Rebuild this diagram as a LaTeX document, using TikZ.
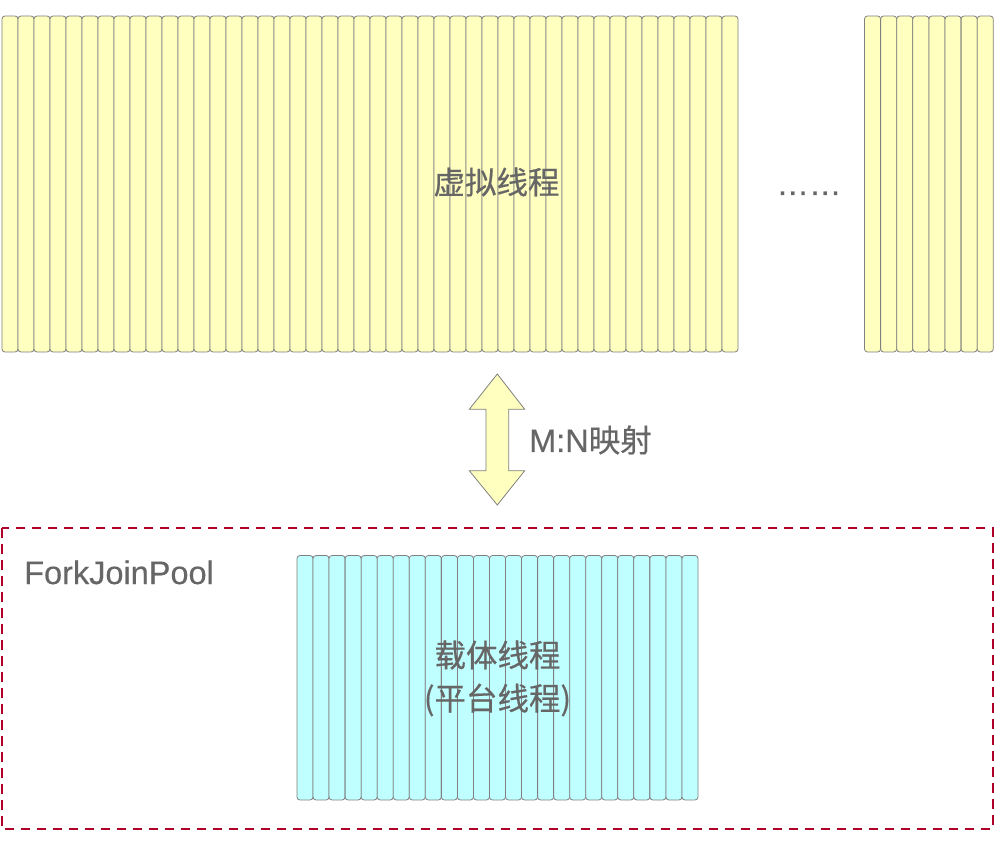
\documentclass[tikz,border=0pt]{standalone}
\usepackage{fontspec}
\setmainfont{Liberation Sans}[FakeBold=0.4]
\newfontfamily\cjk{Noto Sans CJK SC}[FakeBold=0.5]
\definecolor{vyellow}{HTML}{FFFFC0}
\definecolor{ccyan}{HTML}{C0FFFF}
\definecolor{barline}{HTML}{808080}
\definecolor{txtgray}{HTML}{666666}
\definecolor{dashred}{HTML}{B0002A}
\tikzset{
  vbar/.style={draw=barline, fill=vyellow, line width=0.8pt, rounded corners=3pt},
  cbar/.style={draw=barline, fill=ccyan, line width=0.8pt, rounded corners=3pt},
  lbl/.style={text=txtgray, inner sep=0pt, font=\fontsize{32.5}{38}\selectfont},
  cjklbl/.style={text=txtgray, inner sep=0pt, font=\cjk\fontsize{31.5}{36}\selectfont},
}
\begin{document}
\begin{tikzpicture}[x=1pt,y=-1pt]
\useasboundingbox (0,0) rectangle (994,845);
% virtual threads
\foreach \i in {0,...,45} {
  \draw[vbar] ({2+16*\i},16) rectangle ({18+16*\i},352);
}
\foreach \i in {0,...,7} {
  \draw[vbar] ({864.5+16.1*\i},16) rectangle ({880.6+16.1*\i},352);
}
\node[cjklbl] (vt) at (496.5,182) {虚拟线程};
\node[lbl, anchor=base] (dots) at (809,195) {……};
% mapping arrow
\coordinate (atop) at (497.3,374);
\coordinate (abot) at (497.3,505);
\draw[draw=barline, fill=vyellow, line width=0.8pt]
  (atop) -- (524.7,409.3) -- (508.7,409.3) -- (508.7,470.7) -- (524.7,470.7)
  -- (abot) -- (469.3,470.7) -- (486,470.7) -- (486,409.3) -- (469.3,409.3) -- cycle;
\node[lbl, anchor=west] (mn) at (529,440) {M:N{\cjk\fontsize{31.5}{36}\selectfont 映射}};
% ForkJoinPool box
\draw[draw=dashred, line width=2pt, dash pattern=on 9.5pt off 6.5pt] (1.5,528.3) rectangle (992.7,829);
\node[lbl, anchor=base west] (fjp) at (24,584) {ForkJoinPool};
\foreach \i in {0,...,24} {
  \draw[cbar] ({297+16.04*\i},555.5) rectangle ({313.04+16.04*\i},800);
}
\node[cjklbl] (ct1) at (497.5,655) {载体线程};
\node[cjklbl] (ct2) at (497.5,700) {(平台线程)};
\end{tikzpicture}
\end{document}
